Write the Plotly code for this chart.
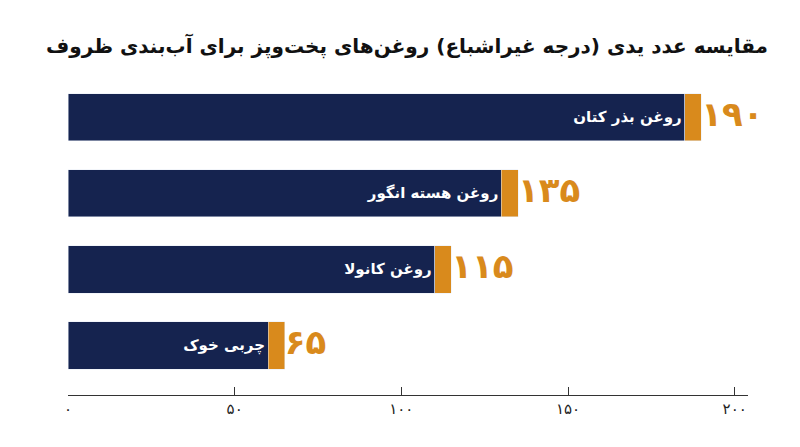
import plotly.graph_objects as go

names = ["روغن بذر کتان", "روغن هسته انگور", "روغن کانولا", "چربی خوک"]
values = [190, 135, 115, 65]
value_labels = ["۱۹۰", "۱۳۵", "۱۱۵", "۶۵"]
tick_vals = [0, 50, 100, 150, 200]
tick_text = ["۰", "۵۰", "۱۰۰", "۱۵۰", "۲۰۰"]
cap = 5

navy = "#15234f"
orange = "#d98a1c"
font = "DejaVu Sans"

fig = go.Figure()
fig.add_bar(y=names, x=[v - cap for v in values], orientation="h", marker_color=navy,
            text=["<b>" + n + "</b>" for n in names], textposition="inside", insidetextanchor="end",
            textfont=dict(color="white", size=15, family=font), width=0.62, hoverinfo="skip")
fig.add_bar(y=names, x=[cap] * len(values), orientation="h", marker_color=orange,
            width=0.62, hoverinfo="skip")
fig.add_scatter(y=names, x=values, mode="text", text=["<b>" + v + "</b>" for v in value_labels],
                textposition="middle right", cliponaxis=False,
                textfont=dict(color=orange, size=34, family=font), hoverinfo="skip")

fig.update_layout(
    barmode="stack", showlegend=False, width=800, height=447,
    plot_bgcolor="white", paper_bgcolor="white",
    margin=dict(l=60, r=60, t=75, b=60),
    title=dict(text="<b>مقایسه عدد یدی (درجه غیراشباع) روغن‌های پخت‌وپز برای آب‌بندی ظروف</b>",
               x=0.95, xanchor="right", y=0.93, font=dict(size=20, color="#111", family=font)),
    xaxis=dict(range=[0, 204], tickvals=tick_vals, ticktext=tick_text, showgrid=False,
               zeroline=False, showline=True, linecolor="#333", ticks="inside", ticklen=8,
               tickcolor="#333", tickfont=dict(size=15, family=font, color="#222")),
    yaxis=dict(range=[3.65, -0.45], showticklabels=False, showgrid=False, zeroline=False),
)
fig.write_html("out.html")
